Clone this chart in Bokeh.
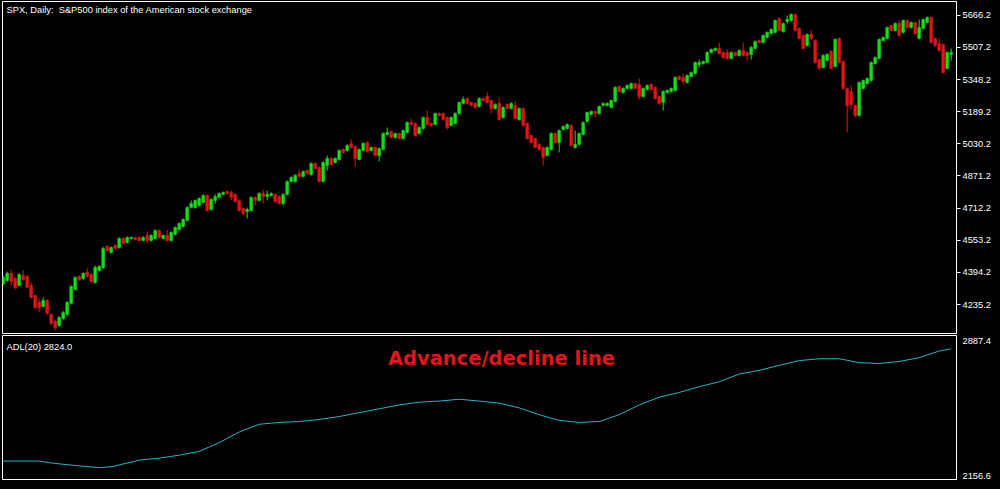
import numpy as np
from bokeh.plotting import figure
from bokeh.models import ColumnDataSource, Range1d, FixedTicker, Label, PrintfTickFormatter
from bokeh.layouts import column
from bokeh.embed import file_html
from bokeh.resources import INLINE

# ---------------- data ----------------
opens = [
    4339, 4354, 4389, 4364, 4330, 4379, 4374, 4330, 4280, 4246,
    4226, 4255, 4186, 4152, 4132, 4166, 4186, 4241, 4310, 4374,
    4364, 4394, 4384, 4344, 4404, 4418, 4522, 4493, 4527, 4517,
    4562, 4542, 4562, 4567, 4567, 4552, 4577, 4552, 4562, 4602,
    4562, 4577, 4552, 4582, 4606, 4621, 4651, 4715, 4715, 4725,
    4740, 4775, 4705, 4750, 4765, 4780, 4794, 4789, 4780, 4750,
    4710, 4695, 4700, 4765, 4750, 4784, 4770, 4775, 4780, 4770,
    4735, 4780, 4844, 4844, 4883, 4869, 4898, 4878, 4933, 4913,
    4844, 4923, 4958, 4938, 4953, 5002, 4997, 5032, 5017, 4953,
    4997, 5037, 4997, 5012, 4972, 5002, 5076, 5091, 5061, 5081,
    5056, 5086, 5136, 5131, 5081, 5106, 5160, 5131, 5126, 5180,
    5180, 5160, 5121, 5131, 5180, 5230, 5254, 5235, 5230, 5215,
    5254, 5264, 5244, 5205, 5230, 5160, 5225, 5205, 5220, 5150,
    5205, 5131, 5071, 5056, 5027, 5012, 4972, 5002, 5081, 5037,
    5101, 5106, 5121, 5012, 5027, 5076, 5141, 5175, 5190, 5180,
    5220, 5220, 5210, 5240, 5314, 5284, 5304, 5304, 5328, 5324,
    5264, 5299, 5324, 5309, 5264, 5235, 5284, 5289, 5294, 5363,
    5358, 5333, 5363, 5378, 5422, 5427, 5432, 5482, 5492, 5502,
    5482, 5482, 5452, 5482, 5467, 5492, 5482, 5472, 5502, 5541,
    5531, 5556, 5576, 5581, 5650, 5586, 5635, 5640, 5670, 5601,
    5566, 5516, 5571, 5541, 5447, 5408, 5442, 5487, 5413, 5551,
    5437, 5304, 5289, 5220, 5170, 5304, 5328, 5343, 5427, 5452,
    5541, 5551, 5615, 5591, 5625, 5581, 5640, 5605, 5630, 5551,
    5600, 5630, 5655, 5551, 5526, 5521, 5403, 5472,
]
highs = [
    4378, 4398, 4408, 4369, 4390, 4404, 4380, 4344, 4285, 4265,
    4270, 4262, 4192, 4158, 4178, 4203, 4252, 4330, 4374, 4380,
    4394, 4414, 4390, 4428, 4430, 4520, 4530, 4522, 4533, 4568,
    4568, 4572, 4572, 4572, 4572, 4574, 4597, 4582, 4607, 4607,
    4582, 4606, 4597, 4621, 4641, 4661, 4720, 4750, 4755, 4765,
    4780, 4780, 4760, 4780, 4790, 4795, 4800, 4799, 4785, 4755,
    4715, 4715, 4770, 4770, 4790, 4804, 4799, 4790, 4785, 4775,
    4785, 4849, 4869, 4879, 4903, 4898, 4903, 4938, 4938, 4918,
    4943, 4972, 4963, 4963, 5002, 5007, 5027, 5052, 5022, 5007,
    5037, 5042, 5017, 5017, 5012, 5086, 5111, 5096, 5086, 5086,
    5101, 5141, 5155, 5136, 5116, 5165, 5195, 5136, 5185, 5185,
    5185, 5165, 5165, 5185, 5240, 5264, 5259, 5240, 5235, 5259,
    5259, 5284, 5249, 5230, 5259, 5215, 5230, 5235, 5240, 5210,
    5210, 5136, 5076, 5061, 5032, 5017, 5017, 5086, 5086, 5101,
    5121, 5131, 5126, 5096, 5086, 5141, 5190, 5195, 5195, 5220,
    5235, 5235, 5249, 5314, 5319, 5309, 5324, 5333, 5333, 5353,
    5309, 5324, 5328, 5314, 5269, 5294, 5299, 5309, 5363, 5368,
    5378, 5373, 5388, 5437, 5447, 5442, 5487, 5502, 5507, 5531,
    5487, 5497, 5487, 5487, 5497, 5531, 5487, 5512, 5541, 5546,
    5571, 5586, 5601, 5645, 5655, 5630, 5665, 5675, 5675, 5606,
    5571, 5576, 5591, 5546, 5452, 5472, 5477, 5492, 5551, 5556,
    5442, 5309, 5319, 5225, 5338, 5348, 5358, 5437, 5462, 5551,
    5561, 5610, 5620, 5630, 5640, 5645, 5645, 5635, 5635, 5645,
    5650, 5660, 5660, 5556, 5551, 5526, 5487, 5502,
]
lows = [
    4330, 4349, 4330, 4310, 4325, 4352, 4315, 4265, 4215, 4196,
    4220, 4185, 4135, 4107, 4125, 4160, 4180, 4236, 4305, 4352,
    4358, 4368, 4344, 4338, 4399, 4412, 4497, 4488, 4507, 4512,
    4532, 4537, 4557, 4552, 4547, 4547, 4542, 4547, 4557, 4562,
    4557, 4547, 4547, 4577, 4601, 4616, 4646, 4710, 4710, 4720,
    4735, 4695, 4700, 4735, 4760, 4775, 4779, 4750, 4740, 4695,
    4680, 4661, 4695, 4725, 4745, 4735, 4750, 4770, 4740, 4730,
    4725, 4775, 4839, 4839, 4864, 4864, 4878, 4873, 4903, 4839,
    4839, 4898, 4923, 4933, 4948, 4982, 4992, 5007, 4918, 4948,
    4992, 4987, 4992, 4967, 4943, 4997, 5071, 5056, 5056, 5051,
    5051, 5081, 5120, 5066, 5076, 5101, 5120, 5116, 5121, 5165,
    5145, 5101, 5116, 5126, 5175, 5225, 5225, 5215, 5205, 5210,
    5240, 5230, 5180, 5200, 5145, 5155, 5200, 5200, 5150, 5145,
    5116, 5051, 5032, 5007, 4997, 4923, 4967, 4997, 5032, 4987,
    5096, 5101, 5017, 5007, 5022, 5071, 5136, 5170, 5160, 5175,
    5215, 5215, 5205, 5235, 5284, 5279, 5299, 5299, 5299, 5249,
    5259, 5294, 5294, 5249, 5225, 5195, 5279, 5284, 5289, 5343,
    5324, 5328, 5358, 5373, 5408, 5422, 5427, 5477, 5487, 5472,
    5452, 5447, 5447, 5462, 5462, 5462, 5442, 5447, 5497, 5526,
    5526, 5551, 5571, 5576, 5586, 5581, 5625, 5635, 5586, 5546,
    5497, 5511, 5546, 5427, 5398, 5403, 5437, 5398, 5408, 5427,
    5299, 5086, 5200, 5160, 5165, 5299, 5324, 5338, 5422, 5447,
    5536, 5546, 5586, 5586, 5561, 5576, 5600, 5600, 5571, 5546,
    5596, 5625, 5526, 5511, 5487, 5378, 5398, 5442,
]
closes = [
    4369, 4389, 4349, 4320, 4384, 4359, 4320, 4270, 4221, 4221,
    4255, 4191, 4142, 4122, 4171, 4196, 4246, 4325, 4369, 4359,
    4389, 4374, 4349, 4418, 4423, 4512, 4502, 4517, 4512, 4562,
    4537, 4567, 4567, 4557, 4552, 4567, 4552, 4577, 4602, 4567,
    4577, 4552, 4592, 4616, 4636, 4656, 4715, 4735, 4750, 4760,
    4775, 4700, 4755, 4770, 4784, 4789, 4784, 4765, 4745, 4700,
    4686, 4705, 4765, 4750, 4784, 4770, 4780, 4784, 4745, 4735,
    4780, 4844, 4864, 4874, 4869, 4893, 4883, 4933, 4908, 4844,
    4938, 4958, 4928, 4958, 4997, 4987, 5022, 5012, 4958, 5002,
    5032, 4992, 5012, 4972, 5007, 5081, 5086, 5061, 5081, 5056,
    5096, 5136, 5126, 5071, 5111, 5160, 5126, 5121, 5180, 5170,
    5150, 5111, 5160, 5180, 5235, 5249, 5230, 5220, 5210, 5254,
    5244, 5235, 5205, 5225, 5150, 5210, 5205, 5230, 5155, 5205,
    5121, 5056, 5037, 5012, 5002, 4963, 5012, 5081, 5037, 5096,
    5116, 5126, 5022, 5027, 5081, 5136, 5185, 5190, 5180, 5215,
    5230, 5230, 5244, 5309, 5289, 5304, 5319, 5328, 5304, 5264,
    5304, 5319, 5299, 5254, 5230, 5289, 5294, 5304, 5358, 5348,
    5338, 5368, 5383, 5432, 5432, 5437, 5482, 5497, 5502, 5477,
    5457, 5452, 5482, 5467, 5492, 5467, 5467, 5507, 5536, 5531,
    5566, 5581, 5596, 5640, 5591, 5625, 5645, 5670, 5591, 5551,
    5502, 5571, 5551, 5432, 5403, 5467, 5472, 5403, 5546, 5432,
    5304, 5220, 5225, 5170, 5333, 5343, 5353, 5432, 5457, 5546,
    5556, 5605, 5591, 5625, 5566, 5640, 5605, 5630, 5576, 5605,
    5645, 5655, 5531, 5516, 5492, 5383, 5482, 5482,
]

# Advance/decline line, sampled at these bar numbers
adl_bar = [0, 4, 9, 12, 14, 19, 24, 27, 29, 34, 39, 44, 49, 54, 59, 64, 69, 74, 79,
           84, 89, 94, 99, 104, 109, 114, 119, 124, 129, 134, 139, 144, 149, 154,
           159, 164, 169, 174, 179, 184, 189, 194, 199, 204, 209, 214, 219, 224,
           229, 234, 237]
adl_val = [2235, 2235, 2235, 2225, 2220, 2209, 2199, 2204, 2214, 2240, 2251, 2267,
           2288, 2335, 2393, 2435, 2445, 2450, 2461, 2477, 2498, 2519, 2540, 2555,
           2561, 2571, 2561, 2550, 2524, 2487, 2456, 2445, 2450, 2487, 2540, 2582,
           2608, 2639, 2666, 2708, 2728, 2755, 2781, 2791, 2791, 2770, 2765, 2776,
           2797, 2833, 2845]

price_ticks = [4235.2, 4394.2, 4553.2, 4712.2, 4871.2, 5030.2, 5189.2, 5348.2, 5507.2, 5666.2]
adl_ticks = [2156.6, 2887.4]

title_text = "SPX, Daily:\u00a0 S&P500 index of the American stock exchange"
adl_text = "ADL(20) 2824.0"
caption_text = "Advance/decline line"

# ---------------- styling ----------------
BULL = "#12e012"
BEAR = "#e41414"
ADL_COLOR = "#22b4c8"
FONT = "Liberation Sans"
FS = "9.3px"

n = len(closes)
bars = np.arange(n)
src = ColumnDataSource(dict(
    x=bars, o=opens, h=highs, l=lows, c=closes,
    col=[BULL if c >= o else BEAR for o, c in zip(opens, closes)],
))

xr = Range1d(-0.175, n + 0.325)
yr_main = Range1d(4092, 5734)
yr_adl = Range1d(2134.9, 2917.3)


def style_axis(ax, ticks, ticks_visible=True):
    ax.ticker = FixedTicker(ticks=ticks)
    ax.formatter = PrintfTickFormatter(format="%.1f")
    ax.axis_line_color = "white"
    ax.major_tick_line_color = "white" if ticks_visible else None
    ax.major_tick_out = 4
    ax.major_tick_in = 0
    ax.minor_tick_line_color = None
    ax.major_label_text_color = "white"
    ax.major_label_text_font = FONT
    ax.major_label_text_font_size = FS
    ax.major_label_standoff = 2


common = dict(output_backend="svg", toolbar_location=None, x_axis_location=None,
              y_axis_location="right", background_fill_color="black",
              border_fill_color="black", outline_line_color="white",
              outline_line_width=1, outline_line_alpha=1.0,
              min_border_left=2, min_border_right=36, frame_width=954)

p = figure(frame_height=332, min_border_top=1, min_border_bottom=1,
           x_range=xr, y_range=yr_main, **common)
p.grid.grid_line_color = None
style_axis(p.yaxis[0], price_ticks)

p.segment(x0="x", y0="h", x1="x", y1="l", color="col", line_width=1, source=src)
p.vbar(x="x", width=0.72, top="o", bottom="c", fill_color="col", line_color="col",
       line_width=0.5, source=src)

p.add_layout(Label(x=xr.start, y=yr_main.end, x_offset=4, y_offset=-8, text=title_text,
                   text_color="white", text_font=FONT, text_font_size=FS,
                   text_baseline="alphabetic", text_align="left"))

p2 = figure(frame_height=144, min_border_top=1, min_border_bottom=2,
            x_range=xr, y_range=yr_adl, **common)
p2.grid.grid_line_color = None
style_axis(p2.yaxis[0], adl_ticks, ticks_visible=False)
p2.line(adl_bar, adl_val, line_color=ADL_COLOR, line_width=1)

p2.add_layout(Label(x=xr.start, y=yr_adl.end, x_offset=4, y_offset=-11, text=adl_text,
                    text_color="white", text_font=FONT, text_font_size=FS,
                    text_baseline="alphabetic", text_align="left"))
p2.add_layout(Label(x=xr.start, y=yr_adl.end, x_offset=499, y_offset=-23, text=caption_text,
                    text_color="#e6141e", text_font="DejaVu Sans", text_font_style="bold",
                    text_font_size="19.5px", text_baseline="alphabetic", text_align="center"))

layout = column(p, p2, spacing=0)

html = file_html(layout, INLINE)
html = html.replace("</head>", "<style>html, body { background: #000; }</style></head>", 1)
open("out.html", "w").write(html)
